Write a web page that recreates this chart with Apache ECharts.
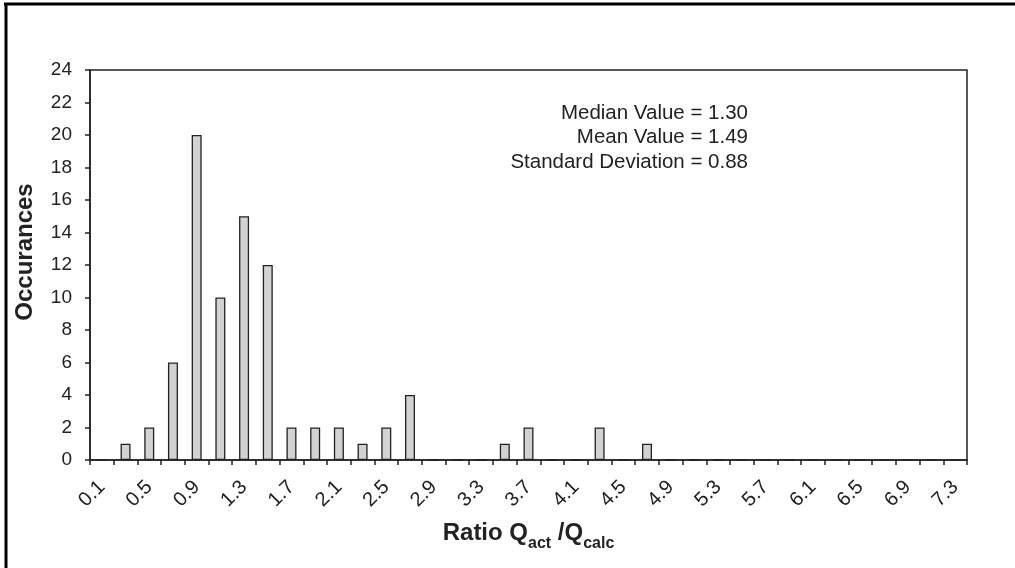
<!DOCTYPE html>
<html>
<head>
<meta charset="utf-8">
<title>Ratio histogram</title>
<script src="https://cdn.jsdelivr.net/npm/echarts@6/dist/echarts.min.js"></script>
<style>
  html, body { margin: 0; padding: 0; background: #fff; }
  #chart { width: 1015px; height: 568px; }
</style>
</head>
<body>
<div id="chart"></div>
<script>
// Bin centres of the ratio histogram (0.1 to 7.3, step 0.2)
const ratioBins = ['0.1','0.3','0.5','0.7','0.9','1.1','1.3','1.5','1.7','1.9',
  '2.1','2.3','2.5','2.7','2.9','3.1','3.3','3.5','3.7','3.9',
  '4.1','4.3','4.5','4.7','4.9','5.1','5.3','5.5','5.7','5.9',
  '6.1','6.3','6.5','6.7','6.9','7.1','7.3'];

// Number of occurrences in each bin
const occurrences = [0, 1, 2, 6, 20, 10, 15, 12, 2, 2,
  2, 1, 2, 4, 0, 0, 0, 1, 2, 0,
  0, 2, 0, 1, 0, 0, 0, 0, 0, 0,
  0, 0, 0, 0, 0, 0, 0];

// Summary statistics printed in the plot
const statLines = ['Median Value = 1.30', 'Mean Value = 1.49', 'Standard Deviation = 0.88'];

const FONT = '"Liberation Sans", Arial, sans-serif';
const chart = echarts.init(document.getElementById('chart'), null, { renderer: 'canvas' });

chart.setOption({
  animation: false,
  backgroundColor: '#fff',
  grid: {
    left: 90, right: 48, top: 70, bottom: 108,
    outerBoundsMode: 'none',
    containLabel: false,
    show: true, borderColor: '#222', borderWidth: 1.5, backgroundColor: 'transparent'
  },
  xAxis: {
    type: 'category',
    data: ratioBins,
    boundaryGap: true,
    name: '{b|Ratio Q}{s|act}{b| /Q}{s|calc}',
    nameLocation: 'middle',
    nameGap: 57,
    nameTextStyle: {
      rich: {
        b: { fontFamily: FONT, fontSize: 24, fontWeight: 'bold', color: '#222', verticalAlign: 'bottom', lineHeight: 28 },
        s: { fontFamily: FONT, fontSize: 16, fontWeight: 'bold', color: '#222', verticalAlign: 'bottom', lineHeight: 17, padding: [0, 0, -7, 0] }
      }
    },
    axisLine: { lineStyle: { color: '#222', width: 1.5 } },
    axisTick: { show: true, interval: 0, length: 5, alignWithLabel: false, lineStyle: { color: '#222', width: 1.5 } },
    axisLabel: {
      interval: 1,
      rotate: 45,
      margin: 24,
      fontFamily: FONT,
      fontSize: 20,
      color: '#222'
    },
    splitLine: { show: false }
  },
  yAxis: {
    type: 'value',
    min: 0, max: 24, interval: 2,
    name: 'Occurances',
    nameLocation: 'middle',
    nameGap: 53,
    nameTextStyle: { fontFamily: FONT, fontSize: 24, fontWeight: 'bold', color: '#222', padding: [0, 0, 0, 26] },
    axisLine: { show: true, lineStyle: { color: '#222', width: 1.5 } },
    axisTick: { show: true, length: 5, lineStyle: { color: '#222', width: 1.5 } },
    axisLabel: { fontFamily: FONT, fontSize: 19, color: '#222', margin: 18 },
    splitLine: { show: false }
  },
  series: [{
    type: 'bar',
    data: occurrences,
    barWidth: 10,
    itemStyle: { color: '#d2d2d2', borderColor: '#222', borderWidth: 1.3 }
  }],
  graphic: [
    // page frame: heavy rule along the top and left edges
    { type: 'line', shape: { x1: 4, y1: 4, x2: 1015, y2: 4 }, style: { stroke: '#000', lineWidth: 3 } },
    { type: 'line', shape: { x1: 6, y1: 3, x2: 6, y2: 568 }, style: { stroke: '#000', lineWidth: 3 } },
    {
      type: 'group',
      children: statLines.map((t, i) => ({
        type: 'text',
        x: 748,
        y: 113 + i * 24.5,
        style: {
          text: t,
          fontFamily: FONT,
          fontSize: 20.5,
          fill: '#222',
          align: 'right',
          verticalAlign: 'middle'
        }
      }))
    }
  ]
});
</script>
</body>
</html>
